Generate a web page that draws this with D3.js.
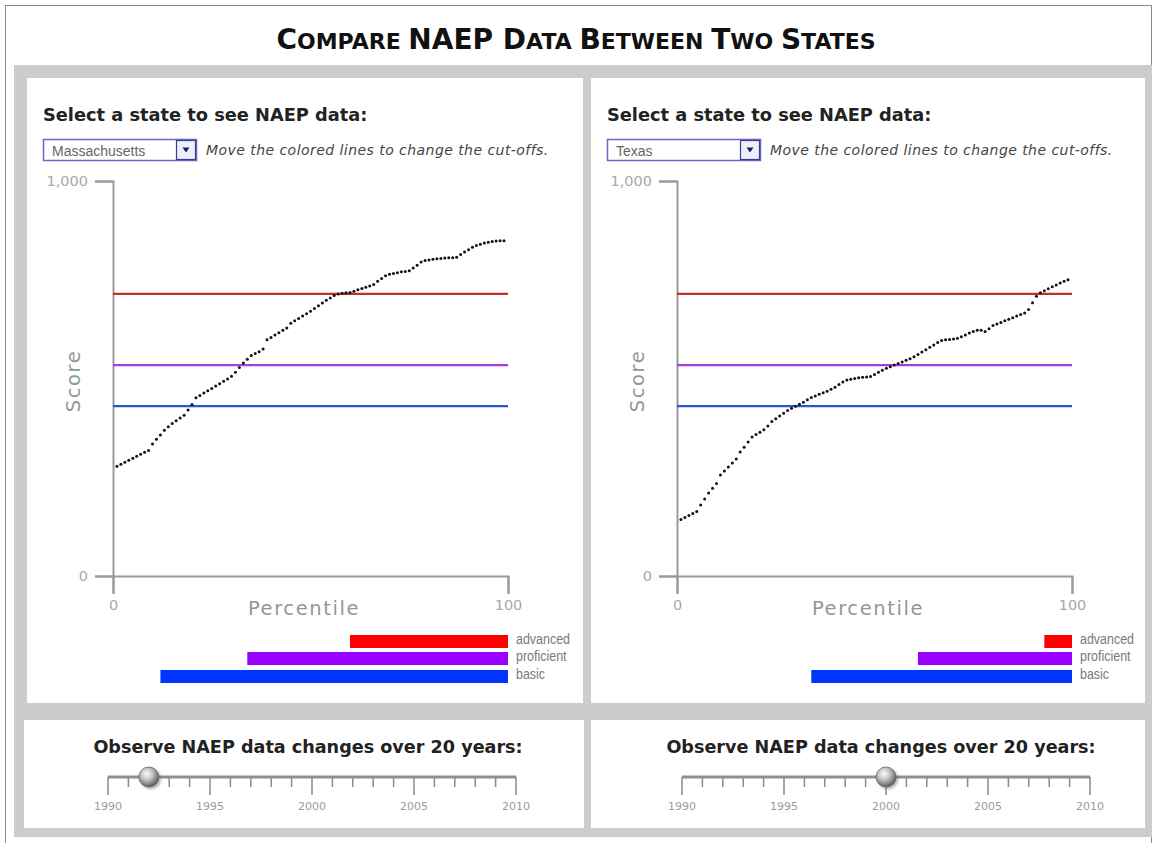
<!DOCTYPE html>
<html>
<head>
<meta charset="utf-8">
<script src="https://cdn.jsdelivr.net/npm/d3@7"></script>
<style>
  body { margin: 0; background: #fff; }
  svg { display: block; }
</style>
</head>
<body>
<script>
// states and slider years shown in the two panels
var stateNames = ["Massachusetts", "Texas"];
var sliderYears = [1992, 2000];

// percentile positions of the dots
var percentiles = d3.range(1, 100);

// score at each percentile
var scoresMassachusetts = [
  278, 283, 288, 293, 298, 303, 308, 313, 318, 334,
  346, 357, 369, 378, 386, 393, 400, 407, 420, 434,
  451, 457, 463, 469, 475, 481, 487, 493, 499, 506,
  516, 528, 539, 549, 558, 563, 568, 575, 598, 604,
  610, 616, 622, 628, 640, 646, 652, 658, 664, 670,
  677, 684, 691, 698, 704, 710, 714, 716, 717, 718,
  721, 725, 728, 731, 734, 738, 746, 753, 760, 764,
  766, 768, 770, 771, 773, 780, 787, 795, 799, 800,
  802, 803, 804, 805, 806, 806, 807, 814, 820, 826,
  832, 837, 840, 843, 845, 847, 848, 849, 849
];
var scoresTexas = [
  143, 148, 153, 158, 163, 180, 195, 210, 222, 234,
  256, 266, 276, 286, 296, 314, 326, 339, 352, 358,
  364, 370, 380, 391, 398, 405, 412, 419, 425, 430,
  435, 440, 446, 452, 456, 460, 464, 468, 473, 478,
  485, 491, 496, 498, 500, 502, 503, 504, 505, 510,
  516, 521, 526, 530, 534, 538, 542, 546, 550, 555,
  561, 567, 573, 579, 585, 591, 596, 598, 599, 600,
  602, 606, 610, 615, 619, 622, 622, 619, 626, 634,
  638, 642, 646, 650, 654, 658, 662, 666, 675, 692,
  708, 717, 722, 727, 732, 737, 742, 746, 750
];

// achievement levels, their cut-off scores and the share of students at/above
var levelNames = ["advanced", "proficient", "basic"];
var cutScores = [714, 534, 430];
var shareMassachusetts = [40, 66, 88];
var shareTexas = [7, 39, 66];

var lineColors = ["#c42e2a", "#a43ee0", "#2a55d0"];
var barColors = ["#ff0000", "#9900ff", "#0035ff"];

var yearLabels = [1990, 1995, 2000, 2005, 2010];

var W = 1158, H = 843;
var uiFont = "'DejaVu Sans', Verdana, sans-serif";
var narrowFont = "'Liberation Sans Narrow', 'Arial Narrow', 'Liberation Sans', sans-serif";

var svg = d3.select("body").append("svg")
    .attr("width", W)
    .attr("height", H);

var defs = svg.append("defs");
var grad = defs.append("radialGradient")
    .attr("id", "knob")
    .attr("cx", "40%").attr("cy", "35%").attr("r", "65%");
grad.append("stop").attr("offset", "0%").attr("stop-color", "#fbfbfb");
grad.append("stop").attr("offset", "45%").attr("stop-color", "#c4c4c4");
grad.append("stop").attr("offset", "85%").attr("stop-color", "#7a7a7a");
grad.append("stop").attr("offset", "100%").attr("stop-color", "#5a5a5a");
defs.append("filter").attr("id", "blur")
    .append("feGaussianBlur").attr("stdDeviation", 1.5);

// frame and grey background
svg.append("rect")
    .attr("x", 5.5).attr("y", 5.5)
    .attr("width", 1146).attr("height", 850)
    .attr("fill", "#fff")
    .attr("stroke", "#8a8a8a");
svg.append("rect")
    .attr("x", 14).attr("y", 65)
    .attr("width", 1138).attr("height", 772)
    .attr("fill", "#cccccc");

// title in small caps
var title = svg.append("text")
    .attr("x", 576).attr("y", 49)
    .attr("text-anchor", "middle")
    .attr("font-family", uiFont)
    .attr("font-weight", "bold")
    .attr("fill", "#111");
[["C", 1], ["OMPARE ", 0], ["NAEP ", 1], ["D", 1], ["ATA ", 0], ["B", 1], ["ETWEEN ", 0],
 ["T", 1], ["WO ", 0], ["S", 1], ["TATES", 0]].forEach(function(p) {
    title.append("tspan")
        .attr("font-size", p[1] ? 28 : 22)
        .text(p[0]);
});

var panels = [
    {ox: 0, state: stateNames[0], scores: scoresMassachusetts, shares: shareMassachusetts,
     year: sliderYears[0], panelX: 27, panelW: 556, botX: 24, botW: 560,
     slider: [108, 516], sliderTitleX: 308},
    {ox: 564, state: stateNames[1], scores: scoresTexas, shares: shareTexas,
     year: sliderYears[1], panelX: 591, panelW: 554, botX: 591, botW: 554,
     slider: [682, 1090], sliderTitleX: 881}
];

panels.forEach(drawPanel);

function drawPanel(p) {
    var ox = p.ox;

    // white boxes
    svg.append("rect")
        .attr("x", p.panelX).attr("y", 78)
        .attr("width", p.panelW).attr("height", 625)
        .attr("fill", "#fff");
    svg.append("rect")
        .attr("x", p.botX).attr("y", 720)
        .attr("width", p.botW).attr("height", 108)
        .attr("fill", "#fff");

    var g = svg.append("g");

    g.append("text")
        .attr("x", 43 + ox).attr("y", 121)
        .attr("font-family", uiFont)
        .attr("font-weight", "bold")
        .attr("font-size", 17.8)
        .attr("fill", "#222")
        .text("Select a state to see NAEP data:");

    // dropdown
    g.append("rect")
        .attr("x", 43.5 + ox).attr("y", 139.5)
        .attr("width", 153).attr("height", 21)
        .attr("fill", "#fff")
        .attr("stroke", "#6b69c2")
        .attr("stroke-width", 1.5);
    g.append("text")
        .attr("x", 52 + ox).attr("y", 155.5)
        .attr("font-family", "'Liberation Sans', Arial, sans-serif")
        .attr("font-size", 14)
        .attr("fill", "#666")
        .text(p.state);
    g.append("rect")
        .attr("x", 176.5 + ox).attr("y", 140.5)
        .attr("width", 19).attr("height", 19)
        .attr("fill", "#eef0f8")
        .attr("stroke", "#3a3aa0")
        .attr("stroke-width", 1.2);
    g.append("path")
        .attr("d", "M" + (182.5 + ox) + ",147.5 h7 l-3.5,5 z")
        .attr("fill", "#1a1a70");

    g.append("text")
        .attr("x", 206 + ox).attr("y", 155)
        .attr("font-family", uiFont)
        .attr("font-style", "italic")
        .attr("font-size", 14)
        .attr("letter-spacing", 0.45)
        .attr("fill", "#444")
        .text("Move the colored lines to change the cut-offs.");

    // scales
    var x = d3.scaleLinear().domain([0, 100]).range([113 + ox, 508 + ox]);
    var y = d3.scaleLinear().domain([0, 1000]).range([576, 181]);

    var yAxis = g.append("g")
        .attr("transform", "translate(" + (113 + ox) + ",0)")
        .call(d3.axisLeft(y).tickValues([0, 1000]).tickSize(18).tickPadding(7)
            .tickFormat(d3.format(",")));
    var xAxis = g.append("g")
        .attr("transform", "translate(0,576)")
        .call(d3.axisBottom(x).tickValues([0, 100]).tickSize(18).tickPadding(6));
    [yAxis, xAxis].forEach(function(a) {
        a.select(".domain").attr("stroke", "#9a9a9a").attr("stroke-width", 2);
        a.selectAll(".tick line").attr("stroke", "#9a9a9a").attr("stroke-width", 2);
        a.selectAll(".tick text")
            .attr("font-family", uiFont)
            .attr("font-size", 14.5)
            .attr("fill", "#a8a8a8");
    });

    g.append("text")
        .attr("x", 304 + ox).attr("y", 615)
        .attr("text-anchor", "middle")
        .attr("font-family", uiFont)
        .attr("font-size", 19.5)
        .attr("letter-spacing", 1.6)
        .attr("fill", "#8d9999")
        .text("Percentile");
    g.append("text")
        .attr("transform", "translate(" + (80 + ox) + ",381) rotate(-90)")
        .attr("text-anchor", "middle")
        .attr("font-family", uiFont)
        .attr("font-size", 19.5)
        .attr("letter-spacing", 1.6)
        .attr("fill", "#8d9999")
        .text("Score");

    // cut-off lines
    g.selectAll(".cut")
        .data(cutScores)
        .join("line")
        .attr("class", "cut")
        .attr("x1", x(0)).attr("x2", x(100))
        .attr("y1", function(d) { return y(d); })
        .attr("y2", function(d) { return y(d); })
        .attr("stroke", function(d, i) { return lineColors[i]; })
        .attr("stroke-width", 2.2);

    // dots
    g.selectAll(".dot")
        .data(p.scores)
        .join("circle")
        .attr("class", "dot")
        .attr("cx", function(d, i) { return x(percentiles[i]); })
        .attr("cy", function(d) { return y(d); })
        .attr("r", 1.5)
        .attr("fill", "#111");

    // level bars
    var barTop = [635, 652, 670];
    g.selectAll(".bar")
        .data(p.shares)
        .join("rect")
        .attr("class", "bar")
        .attr("x", function(d) { return x(100 - d); })
        .attr("y", function(d, i) { return barTop[i]; })
        .attr("width", function(d) { return x(100) - x(100 - d); })
        .attr("height", 13)
        .attr("fill", function(d, i) { return barColors[i]; });
    g.selectAll(".lvl")
        .data(levelNames)
        .join("text")
        .attr("class", "lvl")
        .attr("transform", function(d, i) {
            return "translate(" + (x(100) + 8) + "," + (barTop[i] + 9) + ") scale(0.86,1)";
        })
        .attr("font-family", narrowFont)
        .attr("font-size", 14.5)
        .attr("fill", "#7a7a7a")
        .text(function(d) { return d; });

    // year slider
    g.append("text")
        .attr("x", p.sliderTitleX).attr("y", 753)
        .attr("text-anchor", "middle")
        .attr("font-family", uiFont)
        .attr("font-weight", "bold")
        .attr("font-size", 17.6)
        .attr("fill", "#222")
        .text("Observe NAEP data changes over 20 years:");

    var sx = d3.scaleLinear().domain([1990, 2010]).range(p.slider);
    var sg = g.append("g").attr("transform", "translate(0,777)");
    sg.selectAll(".yt")
        .data(sx.ticks(20))
        .join("line")
        .attr("class", "yt")
        .attr("x1", function(d) { return sx(d); })
        .attr("x2", function(d) { return sx(d); })
        .attr("y1", 0)
        .attr("y2", function(d) { return d % 5 === 0 ? 18 : 10; })
        .attr("stroke", "#8a8a8a")
        .attr("stroke-width", 1.5);
    sg.append("line")
        .attr("x1", sx(1990)).attr("x2", sx(2010))
        .attr("stroke", "#8f8f8f")
        .attr("stroke-width", 3);
    sg.selectAll(".yl")
        .data(yearLabels)
        .join("text")
        .attr("class", "yl")
        .attr("x", function(d) { return sx(d); })
        .attr("y", 33)
        .attr("text-anchor", "middle")
        .attr("font-family", uiFont)
        .attr("font-size", 11)
        .attr("fill", "#9a9a9a")
        .text(function(d) { return d; });
    sg.append("circle")
        .attr("cx", sx(p.year) + 2).attr("cy", 2)
        .attr("r", 10)
        .attr("fill", "#555")
        .attr("opacity", 0.5)
        .attr("filter", "url(#blur)");
    sg.append("circle")
        .attr("cx", sx(p.year)).attr("cy", 0)
        .attr("r", 10)
        .attr("fill", "url(#knob)")
        .attr("stroke", "#666")
        .attr("stroke-width", 0.8);
}
</script>
</body>
</html>
